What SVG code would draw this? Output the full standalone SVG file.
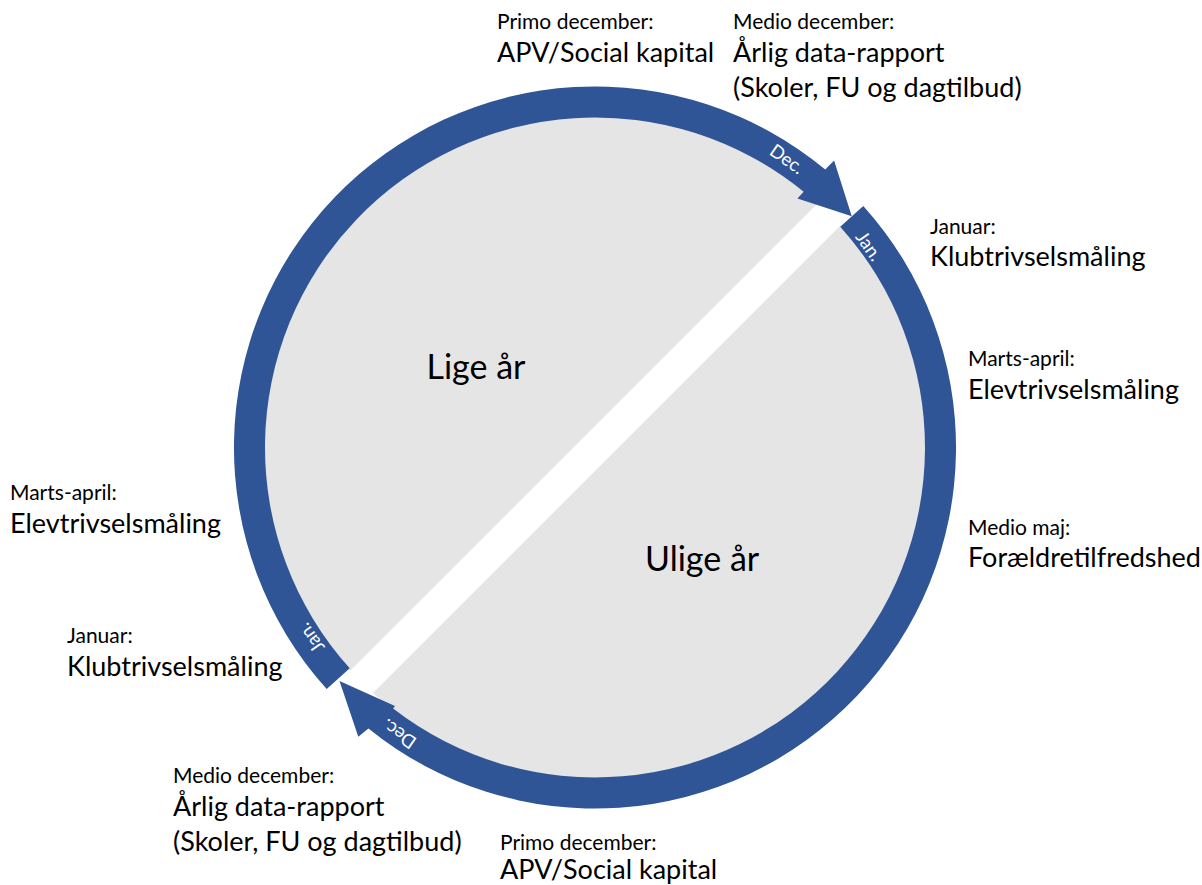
<svg xmlns="http://www.w3.org/2000/svg" width="1202" height="885" viewBox="0 0 1202 885">
  <style>
    text { font-family: Lato, "Open Sans", "Liberation Sans", sans-serif; fill: #000000; }
    .sm { font-size: 21px; }
    .lg { font-size: 27px; }
    .ctr { font-size: 34px; }
    .ring { font-size: 18.5px; fill: #FFFFFF; text-anchor: middle; }
    .half { fill: #E5E5E5; }
    .arc { fill: #2F5597; }
  </style>
  <rect width="1202" height="885" fill="#FFFFFF"/>

  <g id="half-lige">
    <path class="half" d="M 350.45 670.55 A 331 331 0 0 1 818.05 202.95 Z"/>
    <text class="ctr" x="426.5" y="379">Lige år</text>
  </g>
  <g id="half-ulige">
    <path class="half" d="M 840.51 225.49 A 331 331 0 0 1 372.99 693.01 Z"/>
    <text class="ctr" x="645" y="571">Ulige år</text>
  </g>

  <g id="connectors">
    <path id="arc-lige" class="arc" d="M 326.72 689.06 A 361 361 0 0 1 825.25 169.46 L 834.08 160.55 L 851.76 216.32 L 797.45 198.39 L 803.66 191.84 A 330 330 0 0 0 349.76 668.31 Z"/>
    <path id="arc-ulige" class="arc" d="M 863.28 205.94 A 361 361 0 0 1 368.45 728.56 L 358.3 736.7 L 339.5 681 L 395 706 L 393.12 708.54 A 330 330 0 0 0 840.24 226.69 Z"/>
    <text class="ring" transform="translate(787,159) rotate(35)" dy="6.5">Dec.</text>
    <text class="ring" transform="translate(869,246) rotate(55)" dy="6.5">Jan.</text>
    <text class="ring" transform="translate(311,638) rotate(235)" dy="6.5">Jan.</text>
    <text class="ring" transform="translate(399,734) rotate(215)" dy="6.5">Dec.</text>
  </g>

  <g id="node-top-primo">
    <text class="sm" x="497" y="29">Primo december:</text>
    <text class="lg" x="497" y="62">APV/Social kapital</text>
  </g>
  <g id="node-top-medio">
    <text class="sm" x="733" y="29">Medio december:</text>
    <text class="lg" x="733" y="62">Årlig data-rapport</text>
    <text class="lg" x="733" y="97">(Skoler, FU og dagtilbud)</text>
  </g>
  <g id="node-right-januar">
    <text class="sm" x="930" y="234">Januar:</text>
    <text class="lg" x="930" y="266">Klubtrivselsmåling</text>
  </g>
  <g id="node-right-marts">
    <text class="sm" x="968" y="366">Marts-april:</text>
    <text class="lg" x="968" y="399">Elevtrivselsmåling</text>
  </g>
  <g id="node-right-maj">
    <text class="sm" x="968" y="535">Medio maj:</text>
    <text class="lg" x="968" y="567">Forældretilfredshed</text>
  </g>
  <g id="node-left-marts">
    <text class="sm" x="10" y="500">Marts-april:</text>
    <text class="lg" x="10" y="533">Elevtrivselsmåling</text>
  </g>
  <g id="node-left-januar">
    <text class="sm" x="67" y="643">Januar:</text>
    <text class="lg" x="67" y="676">Klubtrivselsmåling</text>
  </g>
  <g id="node-bottom-medio">
    <text class="sm" x="173" y="783">Medio december:</text>
    <text class="lg" x="173" y="816">Årlig data-rapport</text>
    <text class="lg" x="173" y="851">(Skoler, FU og dagtilbud)</text>
  </g>
  <g id="node-bottom-primo">
    <text class="sm" x="500" y="850">Primo december:</text>
    <text class="lg" x="500" y="879">APV/Social kapital</text>
  </g>
</svg>
